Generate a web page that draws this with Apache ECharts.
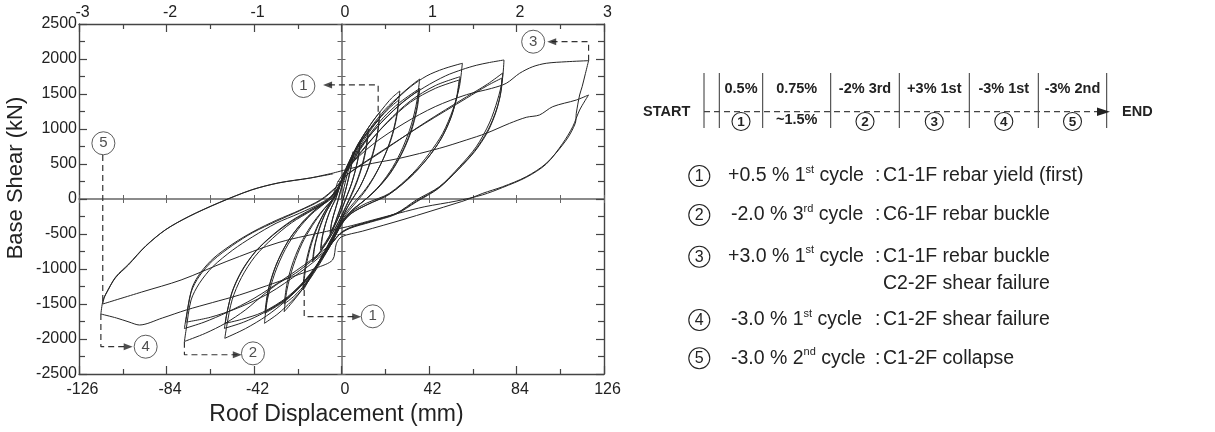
<!DOCTYPE html>
<html><head><meta charset="utf-8">
<script src="https://cdn.jsdelivr.net/npm/echarts/dist/echarts.min.js"></script>
<style>html,body{margin:0;padding:0;background:#fff}#c{width:1215px;height:432px}</style>
</head><body><div id="c"></div>
<script>
// ---------- axis ranges ----------
const xRangeMm = [-126, 126];
const xStepMm = 42;
const driftRange = [-3, 3];
const driftStep = 1;
const yRangeKN = [-2500, 2500];
const yStepKN = 500;

// ---------- hysteresis cycles [roof displacement mm, base shear kN] ----------
const c1a = [[0,0],[1.5,200],[3.2,400],[4.5,560],[5.6,676],[5.0,520],[3.6,330],[2.0,130],[0.2,-60],[-1.8,-230],[-3.6,-380],[-5.5,-490],[-4.9,-360],[-3.4,-190],[-1.6,-20],[-0.5,100]];
const c1b = [[-0.5,100],[1.2,260],[3.0,440],[4.4,580],[5.4,640],[4.8,480],[3.3,280],[1.6,90],[0,-90],[-2,-260],[-3.8,-390],[-5.3,-470],[-4.6,-320],[-3,-150],[-1.4,20]];
const c2a = [[-1.4,20],[0.5,230],[2.5,420],[4.5,560],[6.8,710],[9.0,830],[8.3,640],[6.8,430],[4.8,220],[2.6,40],[0.4,-130],[-2,-300],[-4.5,-460],[-7.2,-610],[-10.1,-730],[-9.4,-560],[-7.6,-350],[-5.4,-160],[-3,-20]];
const c2b = [[-3,-20],[-1,160],[1.5,380],[4,540],[6.5,680],[8.8,790],[8.1,600],[6.5,390],[4.4,180],[2.2,20],[0,-150],[-2.5,-330],[-5,-480],[-7.5,-610],[-9.8,-700],[-9,-520],[-7.1,-300],[-4.8,-120],[-2.5,30]];
const c3a = [[-2.5,30],[-0.5,220],[2,430],[5,620],[8,790],[10.6,910],[13,1000],[12.2,780],[10.5,530],[8,290],[5.2,80],[2.5,-90],[0,-250],[-3,-420],[-6.5,-590],[-10,-750],[-14,-900],[-13.1,-700],[-11,-450],[-8.2,-230],[-5,-60],[-2.5,60]];
const c3b = [[-2.5,60],[0,260],[3,470],[6.5,680],[10,860],[12.6,960],[11.8,740],[10,500],[7.4,260],[4.6,60],[2,-110],[-0.5,-270],[-4,-470],[-7.5,-640],[-11,-780],[-13.6,-870],[-12.7,-660],[-10.5,-420],[-7.6,-200],[-4.5,-40],[-2,80]];
const c4a = [[-2,80],[0.5,300],[4,540],[8,780],[12,980],[15.5,1130],[18.5,1247],[17.6,1000],[15.6,720],[12.6,430],[9,180],[5.5,10],[2.5,-140],[0,-300],[-3.5,-500],[-7.5,-720],[-11.5,-930],[-15,-1120],[-18.3,-1300],[-17.3,-1010],[-15,-700],[-11.8,-420],[-8,-180],[-4.5,-20],[-2,90]];
const c4b = [[-2,90],[0.5,310],[4.5,560],[9,800],[13.5,990],[18,1129],[17.1,900],[15,630],[11.8,360],[8,130],[4.5,-30],[1.5,-190],[-1.5,-370],[-5.5,-600],[-10,-850],[-14.5,-1080],[-18.5,-1252],[-17.4,-960],[-14.8,-640],[-11.2,-360],[-7.2,-140],[-3.8,20],[-1.5,130]];
const c5a = [[-1.5,130],[1,340],[5,600],[10,880],[15,1110],[20,1300],[24,1440],[28,1543],[26.8,1250],[24.5,940],[21,640],[16.5,360],[12,140],[7.5,-30],[3.5,-170],[0,-320],[-4,-540],[-9,-820],[-14,-1080],[-19,-1300],[-23.5,-1470],[-27.5,-1610],[-26.2,-1300],[-23.2,-960],[-19,-640],[-14,-380],[-9,-170],[-4.5,-10],[-1.5,150]];
const c5b = [[-1.5,150],[1.5,370],[6,620],[12,900],[18,1140],[23,1300],[27.5,1414],[26.3,1140],[23.8,850],[20,570],[15.4,310],[10.5,100],[6,-50],[2,-200],[-1.5,-380],[-6,-640],[-11.5,-930],[-17,-1200],[-22.5,-1380],[-27.5,-1500],[-26.1,-1200],[-23,-880],[-18.6,-580],[-13.4,-330],[-8.4,-140],[-4,10],[-1,180]];
const c6a = [[-1,180],[2,400],[7,700],[14,1020],[21,1280],[28,1480],[33,1610],[37.5,1714],[36.2,1400],[33.5,1060],[29.5,740],[24.5,450],[18.5,200],[12.5,20],[7,-120],[2.5,-260],[-1,-420],[-6,-700],[-12,-1000],[-18,-1260],[-24,-1460],[-30.5,-1640],[-37,-1776],[-35.5,-1430],[-32,-1060],[-27,-720],[-21,-440],[-14.5,-220],[-8,-60],[-3,90],[0,250]];
const c6b = [[0,250],[4,480],[12,860],[20,1160],[28,1380],[37.6,1581],[36.3,1290],[33.4,960],[29,650],[23.5,370],[17,140],[11,-20],[5.5,-150],[1,-300],[-3,-520],[-10,-880],[-18,-1200],[-27,-1450],[-36.8,-1633],[-35.2,-1300],[-31.5,-950],[-26,-620],[-19.5,-360],[-12.5,-150],[-6.5,-20],[-2,150],[0.5,300]];
const c6c = [[0.5,300],[5,520],[13,880],[21,1150],[29,1370],[37.2,1557],[35.9,1270],[33,950],[28.6,640],[23,360],[16.5,130],[10.5,-30],[5,-160],[0.5,-320],[-4,-560],[-11,-920],[-19,-1230],[-28,-1460],[-36.5,-1610],[-34.9,-1280],[-31.2,-930],[-25.6,-600],[-19,-340],[-12,-140],[-6,0],[-1.5,170]];
const c7a = [[-1.5,170],[2,420],[8,760],[16,1080],[25,1380],[33,1600],[41,1760],[49,1860],[58,1939],[56.6,1604],[53.4,1271],[48.6,939],[42.2,653],[34.2,367],[23,81],[12,-60],[5,-180],[0,-330],[-4,-560],[-10,-860],[-18,-1180],[-27,-1460],[-36,-1670],[-46,-1850],[-56,-1990],[-55,-1800],[-52.5,-1440],[-48,-1120],[-41.5,-820],[-33,-560],[-24,-340],[-14,-160],[-5,0],[-1,180]];
const c7b = [[-1,180],[3,420],[12,760],[22,1100],[33,1400],[45,1620],[56.9,1747],[55.5,1470],[52.5,1160],[47.8,860],[41.5,590],[33.5,330],[23,70],[13,-70],[5,-200],[0,-360],[-6,-700],[-15,-1080],[-25,-1390],[-37,-1620],[-47,-1760],[-56.2,-1848],[-55.2,-1660],[-52.6,-1340],[-48,-1040],[-41.5,-760],[-33,-520],[-24,-320],[-14,-150],[-5.5,10],[-1,200]];
const c7c = [[-1,200],[3,430],[12,770],[22,1090],[33,1380],[45,1580],[56.5,1700],[55.1,1430],[52.1,1130],[47.4,840],[41,570],[33,310],[22.5,60],[12.5,-80],[4.5,-210],[-0.5,-380],[-6.5,-720],[-15.5,-1090],[-26,-1400],[-38,-1620],[-48,-1720],[-55.8,-1776],[-54.8,-1600],[-52.2,-1300],[-47.6,-1010],[-41,-740],[-32.5,-500],[-23.5,-300],[-13.5,-130],[-5,20],[-0.5,220]];
const c8a = [[-0.5,220],[3,450],[10,780],[20,1120],[30,1400],[40,1600],[50,1760],[58,1850],[64.7,1910],[71,1950],[78,1986],[77.2,1700],[74.9,1414],[71,1086],[64.7,747],[56.6,461],[47,176],[35.9,-14],[26.3,-204],[15,-310],[5,-400],[0,-480],[-5,-640],[-15,-880],[-28,-1150],[-42,-1420],[-55,-1620],[-66,-1760],[-75.4,-1850],[-74.6,-1700],[-72.2,-1330],[-68.2,-1100],[-61.8,-880],[-52.2,-660],[-42.6,-480],[-31.4,-320],[-20.2,-170],[-10,-20],[-3,150],[-1,230]];
const c8b = [[-1,230],[3.8,370],[20,690],[40,1090],[60,1460],[70,1640],[77.4,1800],[76.6,1540],[74.3,1270],[70.4,990],[64.2,700],[56.2,430],[46.6,160],[36,-30],[26,-210],[14,-320],[4,-410],[-1,-500],[-8,-760],[-20,-1050],[-35,-1350],[-50,-1560],[-63,-1690],[-74.8,-1760],[-74,-1610],[-71.6,-1260],[-67.6,-1050],[-61.2,-840],[-51.6,-630],[-42,-460],[-31,-300],[-20,-160],[-10,-10],[-3,160],[-0.5,240]];
const c8c = [[-0.5,240],[4,380],[20,700],[40,1080],[60,1440],[70,1620],[77,1728],[76.2,1480],[74,1230],[70,950],[64,680],[56,420],[46.5,150],[36,-40],[26,-220],[14,-330],[4,-420],[-1.5,-520],[-7,-720],[-15,-900],[-22,-1060],[-30.2,-1204],[-36.6,-1347],[-46.2,-1586],[-55.8,-1776],[-65.4,-1919],[-75.4,-2035],[-74.6,-1871],[-72.2,-1443],[-68.2,-1204],[-61.8,-967],[-52.2,-729],[-42.6,-539],[-31.4,-347],[-20.2,-204],[-10,-60],[-4.3,60],[-2,230]];
const c9a = [[-2,230],[3,450],[15,780],[30,1080],[45,1320],[60,1490],[72,1580],[79.1,1653],[85.5,1796],[91.8,1890],[98.3,1939],[107.9,1961],[118.6,1976],[117.1,1795],[115.5,1604],[114.3,1486],[112.7,1224],[112.2,1081],[107.9,843],[98.3,510],[88.7,319],[77.4,176],[67.8,81],[59.9,-14],[55,-61],[30,-290],[10,-460],[0,-540],[-2.5,-640],[-4.3,-871],[-12,-985],[-23.5,-1110],[-36,-1240],[-49,-1371],[-62,-1480],[-74.6,-1586],[-86,-1700],[-97,-1800],[-102,-1757],[-108,-1700],[-115.5,-1643],[-114.5,-1450],[-112.8,-1343],[-108.6,-1129],[-102.3,-943],[-94.2,-681],[-84.6,-443],[-73.4,-253],[-59,-57],[-43.2,129],[-30.2,229],[-15,300],[-4,371]];
const c9b = [[-4,371],[5,440],[15,510],[27.8,581],[47,724],[59.9,843],[69.5,939],[80.7,1081],[88.7,1167],[95,1200],[101.4,1319],[112.7,1414],[118.6,1486],[114.3,1271],[111,1033],[106.2,796],[98.3,500],[88.7,310],[77.4,165],[67.8,60],[55,-30],[40,-110],[27.8,-200],[15,-300],[5,-380],[-4.2,-443],[-30,-620],[-55,-890],[-77,-1157],[-96,-1330],[-114.6,-1500],[-113.8,-1400],[-112.5,-1320],[-108.3,-1110],[-102,-925],[-94,-670],[-84.3,-435],[-73,-245],[-58.7,-50],[-43,132],[-30,232],[-15,300],[-4,360]];

// ---------- annotation call-outs (data coords) ----------
const calloutPaths = [
  [[17.6,1247],[17.6,1629],[-6.7,1629]],
  [[-17.9,-1300],[-17.9,-1681],[7.3,-1681]],
  [[-75.4,-2040],[-75.4,-2225],[-50,-2225]],
  [[118.6,1976],[118.6,2247],[100.9,2247]],
  [[-115.5,-1643],[-115.5,-2110],[-102.4,-2110]],
  [[-114.6,630],[-114.6,-1500]]
];
const calloutArrows = [[-6.7,1629,'left'],[7.3,-1681,'right'],[-50,-2225,'right'],[100.9,2247,'left'],[-102.4,-2110,'right']];
const calloutMarks = [[-18.3,1614,'1'],[15,-1676,'1'],[-42.5,-2205,'2'],[92,2247,'3'],[-94,-2110,'4'],[-114.3,796,'5']];

// ---------- right-hand panel texts ----------
const timelineTop = ['0.5%','0.75%','-2% 3rd','+3% 1st','-3% 1st','-3% 2nd'];
const timelineBottom = ['1','~1.5%','2','3','4','5'];
const events = [
  {mark:'1', pre:'+0.5 % 1', sup:'st', post:' cycle', lines:['C1-1F rebar yield (first)']},
  {mark:'2', pre:'-2.0 % 3', sup:'rd', post:' cycle', lines:['C6-1F rebar buckle']},
  {mark:'3', pre:'+3.0 % 1', sup:'st', post:' cycle', lines:['C1-1F rebar buckle','C2-2F shear failure']},
  {mark:'4', pre:'-3.0 % 1', sup:'st', post:' cycle', lines:['C1-2F shear failure']},
  {mark:'5', pre:'-3.0 % 2', sup:'nd', post:' cycle', lines:['C1-2F collapse']}
];

// ======================================================================
const FONT = '"Liberation Sans", Arial, Helvetica, sans-serif';
const INK = '#222';
const loops = [c1a,c1b,c2a,c2b,c3a,c3b,c4a,c4b,c5a,c5b,c6a,c6b,c6c,c7a,c7b,c7c,c8a,c8b,c8c,c9a,c9b];

// split each cycle into branches at displacement reversals so tips stay sharp
function branches(pts) {
  const out = []; let cur = [pts[0]]; let dir = 0;
  for (let i = 1; i < pts.length; i++) {
    const d = Math.sign(pts[i][0] - pts[i-1][0]);
    if (dir !== 0 && d !== 0 && d !== dir) { out.push(cur); cur = [pts[i-1]]; }
    if (d !== 0) dir = d;
    cur.push(pts[i]);
  }
  out.push(cur);
  return out;
}

const series = [];
loops.forEach(l => branches(l).forEach(b => series.push({
  type:'line', data:b, xAxisIndex:0, yAxisIndex:0, symbol:'none', showSymbol:false,
  smooth:0.3, silent:true, z:3, lineStyle:{color:'#262626', width:1}
})));
calloutPaths.forEach(p => series.push({
  type:'line', data:p, xAxisIndex:0, yAxisIndex:0, symbol:'none', showSymbol:false, silent:true, z:4,
  lineStyle:{color:'#333', width:1.2, type:[6,4]}
}));
series.push({
  type:'scatter', xAxisIndex:0, yAxisIndex:0, silent:true, z:6,
  data: calloutArrows.map(a => ({value:[a[0],a[1]], symbolRotate: a[2]==='left' ? 90 : -90})),
  symbol:'triangle', symbolSize:[7,9], itemStyle:{color:'#222'}
});
series.push({
  type:'scatter', xAxisIndex:0, yAxisIndex:0, silent:true, z:7,
  data: calloutMarks, symbol:'circle', symbolSize:23,
  itemStyle:{color:'#fff', borderColor:'#333', borderWidth:1},
  label:{show:true, position:'inside', formatter:p => p.value[2], fontSize:15, color:INK, fontFamily:FONT}
});

const plain = v => String(v);
const frameLine = {color:'#444', width:1.4};
const tickStyle = {color:'#444', width:1.2};
const xAxes = [
  {type:'value', min:xRangeMm[0], max:xRangeMm[1], interval:xStepMm, position:'bottom',
   axisLine:{onZero:false, lineStyle:frameLine}, splitLine:{show:false},
   axisTick:{inside:true, length:8, lineStyle:tickStyle},
   minorTick:{show:true, splitNumber:2, length:5, lineStyle:tickStyle},
   axisLabel:{fontSize:16, color:INK, fontFamily:FONT, margin:8, padding:[0,0,0,7], formatter:plain},
   name:'Roof Displacement (mm)', nameLocation:'middle', nameGap:29,
   nameTextStyle:{fontSize:23, color:INK, fontFamily:FONT, padding:[0,10,0,0]}},
  {type:'value', min:driftRange[0], max:driftRange[1], interval:driftStep, position:'top',
   axisLine:{onZero:false, lineStyle:frameLine}, splitLine:{show:false},
   axisTick:{inside:true, length:8, lineStyle:tickStyle},
   minorTick:{show:true, splitNumber:2, length:5, lineStyle:tickStyle},
   axisLabel:{fontSize:16, color:INK, fontFamily:FONT, margin:3, padding:[0,0,0,7], formatter:plain}},
  {type:'value', min:xRangeMm[0], max:xRangeMm[1], interval:xStepMm, position:'bottom',
   axisLine:{onZero:true, onZeroAxisIndex:0, lineStyle:{color:'#666', width:1.5}}, splitLine:{show:false},
   axisTick:{inside:true, length:4, lineStyle:{color:'#666'}},
   minorTick:{show:true, splitNumber:2, length:4, lineStyle:{color:'#666'}},
   axisLabel:{show:false}},
  {type:'value', min:xRangeMm[0], max:xRangeMm[1], interval:xStepMm, position:'bottom',
   axisLine:{show:false, onZero:true, onZeroAxisIndex:0}, splitLine:{show:false},
   axisTick:{inside:false, length:4, lineStyle:{color:'#666'}},
   minorTick:{show:true, splitNumber:2, length:4, lineStyle:{color:'#666'}},
   axisLabel:{show:false}}
];
const yAxes = [
  {type:'value', min:yRangeKN[0], max:yRangeKN[1], interval:yStepKN, position:'left',
   axisLine:{onZero:false, lineStyle:frameLine}, splitLine:{show:false},
   axisTick:{inside:true, length:8, lineStyle:tickStyle},
   minorTick:{show:true, splitNumber:2, length:6, lineStyle:tickStyle},
   axisLabel:{fontSize:16, color:INK, fontFamily:FONT, margin:2, formatter:plain},
   name:'Base Shear (kN)', nameLocation:'middle', nameGap:52,
   nameTextStyle:{fontSize:22, color:INK, fontFamily:FONT, padding:[0,0,0,42]}},
  {type:'value', min:yRangeKN[0], max:yRangeKN[1], interval:yStepKN, position:'right',
   axisLine:{onZero:false, lineStyle:frameLine}, splitLine:{show:false},
   axisTick:{inside:true, length:8, lineStyle:tickStyle},
   minorTick:{show:true, splitNumber:2, length:6, lineStyle:tickStyle},
   axisLabel:{show:false}},
  {type:'value', min:yRangeKN[0], max:yRangeKN[1], interval:yStepKN, position:'left',
   axisLine:{onZero:true, onZeroAxisIndex:0, lineStyle:{color:'#666', width:1.5}}, splitLine:{show:false},
   axisTick:{inside:true, length:4, lineStyle:{color:'#666'}},
   minorTick:{show:true, splitNumber:2, length:4, lineStyle:{color:'#666'}},
   axisLabel:{show:false}},
  {type:'value', min:yRangeKN[0], max:yRangeKN[1], interval:yStepKN, position:'left',
   axisLine:{show:false, onZero:true, onZeroAxisIndex:0}, splitLine:{show:false},
   axisTick:{inside:false, length:4, lineStyle:{color:'#666'}},
   minorTick:{show:true, splitNumber:2, length:4, lineStyle:{color:'#666'}},
   axisLabel:{show:false}}
];

// ---------- right panel graphics ----------
const g = [];
const bars = [704, 719.3, 762.7, 830.7, 899.3, 969.3, 1038.3, 1106.7];
const tlY = 111.7;
bars.forEach(x => g.push({type:'line', shape:{x1:x, y1:73, x2:x, y2:128}, style:{stroke:'#333', lineWidth:1}}));
g.push({type:'line', shape:{x1:704, y1:tlY, x2:1099, y2:tlY}, style:{stroke:'#444', lineWidth:1.3, lineDash:[6,4]}});
g.push({type:'polygon', shape:{points:[[1097,107.5],[1110,tlY],[1097,116]]}, style:{fill:'#222'}});
g.push({type:'text', x:643, y:tlY, style:{text:'START', fontSize:14.5, fontWeight:'bold', fontFamily:FONT, fill:INK, align:'left', verticalAlign:'middle'}});
g.push({type:'text', x:1122, y:tlY, style:{text:'END', fontSize:14.5, fontWeight:'bold', fontFamily:FONT, fill:INK, align:'left', verticalAlign:'middle'}});
for (let i = 0; i < timelineTop.length; i++) {
  const cx = (bars[i+1] + bars[i+2]) / 2;
  g.push({type:'text', x:cx, y:89, style:{text:timelineTop[i], fontSize:14.5, fontWeight:'bold', fontFamily:FONT, fill:INK, align:'center', verticalAlign:'middle'}});
  const b = timelineBottom[i];
  if (/^\d$/.test(b)) {
    g.push({type:'circle', shape:{cx:cx, cy:121.5, r:9}, style:{fill:'#fff', stroke:'#222', lineWidth:1.1}});
    g.push({type:'text', x:cx, y:122, style:{text:b, fontSize:13.5, fontWeight:'bold', fontFamily:FONT, fill:INK, align:'center', verticalAlign:'middle'}});
  } else {
    g.push({type:'text', x:cx, y:120, style:{text:b, fontSize:14.5, fontWeight:'bold', fontFamily:FONT, fill:INK, align:'center', verticalAlign:'middle'}});
  }
}
const rowY = [176, 215, 256.7, 320, 358.3];
const lineGap = 26.6;
events.forEach((e, i) => {
  const y = rowY[i];
  g.push({type:'circle', shape:{cx:699.3, cy:y, r:10.5}, style:{fill:'#fff', stroke:'#222', lineWidth:1.1}});
  g.push({type:'text', x:699.3, y:y + 0.5, style:{text:e.mark, fontSize:16, fontFamily:FONT, fill:INK, align:'center', verticalAlign:'middle'}});
  g.push({type:'text', x: e.pre[0] === '+' ? 728 : 731, y:y, style:{
    text:'{m|' + e.pre + '}{s|' + e.sup + '}{m|' + e.post + '}',
    align:'left', verticalAlign:'middle', fill:INK,
    rich:{m:{fontSize:19.5, fontFamily:FONT, fill:INK, lineHeight:24},
          s:{fontSize:11, fontFamily:FONT, fill:INK, lineHeight:13, verticalAlign:'top'}}
  }});
  g.push({type:'text', x:875, y:y, style:{text:':', fontSize:19.5, fontFamily:FONT, fill:INK, align:'left', verticalAlign:'middle'}});
  e.lines.forEach((t, k) => g.push({type:'text', x:883, y:y + k*lineGap, style:{text:t, fontSize:19.5, fontFamily:FONT, fill:INK, align:'left', verticalAlign:'middle'}}));
});

const chart = echarts.init(document.getElementById('c'), null, {renderer:'canvas'});
chart.setOption({
  animation:false,
  backgroundColor:'#fff',
  grid:{left:79, top:24, width:525, height:350, containLabel:false},
  xAxis:xAxes, yAxis:yAxes, series:series, graphic:g
});
</script></body></html>
